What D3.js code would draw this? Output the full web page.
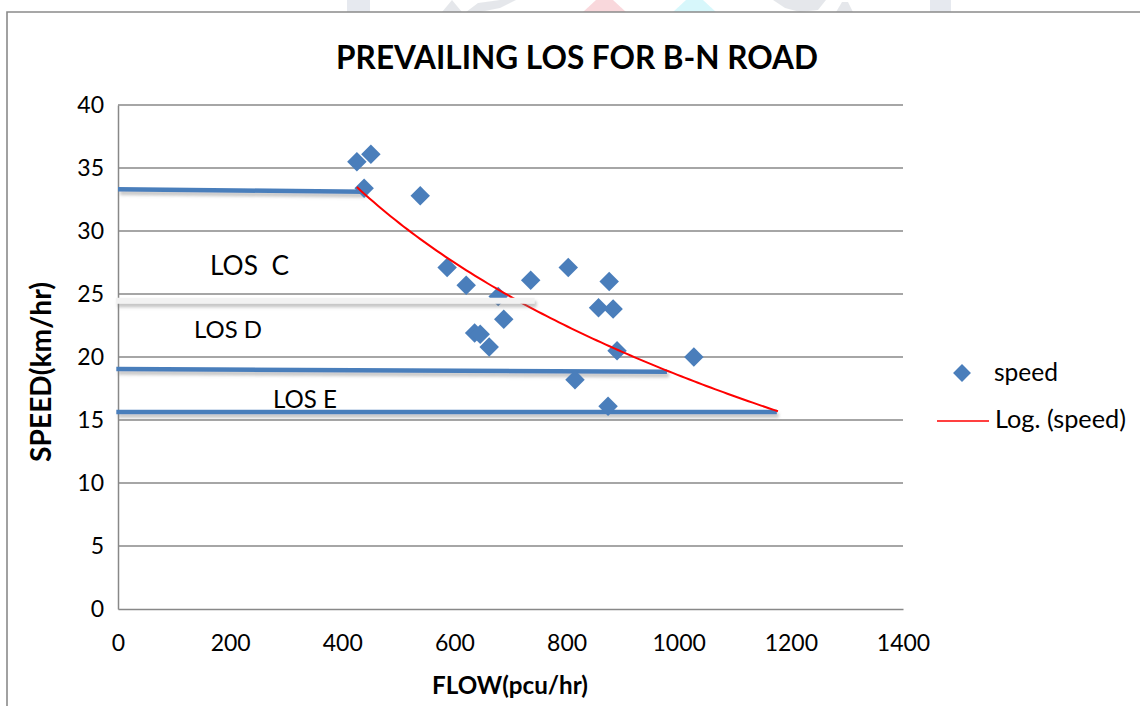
<!DOCTYPE html>
<html>
<head>
<meta charset="utf-8">
<script src="https://cdn.jsdelivr.net/npm/d3@7"></script>
<style>
  body { margin: 0; background: #fff; }
  svg { display: block; }
  text { font-family: Lato, "Open Sans", sans-serif; fill: #000; }
</style>
</head>
<body>
<svg id="chart" width="1140" height="706"></svg>
<script>
// Observed flow (pcu/hr) and speed (km/hr) on the B-N road
const flow  = [426, 451, 439, 539, 587, 621, 736, 803, 876, 857, 883, 890, 1027, 815, 874, 636, 646, 662, 688, 678];
const speed = [35.5, 36.1, 33.4, 32.8, 27.1, 25.7, 26.1, 27.1, 26.0, 23.9, 23.8, 20.5, 20.0, 18.2, 16.1, 21.9, 21.8, 20.8, 23.0, 24.8];

// Axis ticks
const xTicks = [0, 200, 400, 600, 800, 1000, 1200, 1400];
const yTicks = [0, 5, 10, 15, 20, 25, 30, 35, 40];

// Logarithmic trend: speed = a * ln(flow) + b, over the flow range shown
const trendCoef  = [-17.51, 139.5];
const trendRange = [426, 1177];

// LOS boundary lines as [flow, speed] at each end
const boundaryStart = [[0, 33.31], [-4, 24.47], [-3, 19.05], [-3, 15.63]];
const boundaryEnd   = [[440, 33.12], [743, 24.47], [979, 18.82], [1175, 15.63]];
const boundaryKind  = ["blue", "pale", "blue", "blue"];

// LOS band names
const losNames = ["LOS  C", "LOS D", "LOS E"];

const seriesName = "speed";
const trendName = "Log. (speed)";

const svg = d3.select("#chart");
const W = 1140, H = 706;
const plot = { left: 118, right: 903, top: 105, bottom: 609 };
const blue = "#4a7ebb";

const x = d3.scaleLinear().domain([0, 1400]).range([plot.left, plot.right]);
const y = d3.scaleLinear().domain([0, 40]).range([plot.bottom, plot.top]);

// scale a text element's font size so its width becomes w
function fitWidth(sel, w) {
  const cur = sel.node().getComputedTextLength();
  const fs = parseFloat(sel.attr("font-size"));
  sel.attr("font-size", fs * w / cur);
  return sel;
}

const defs = svg.append("defs");
defs.append("filter")
  .attr("id", "shade")
  .attr("filterUnits", "userSpaceOnUse")
  .attr("x", 0).attr("y", 0).attr("width", W).attr("height", H)
  .append("feDropShadow")
  .attr("dx", 2).attr("dy", 3.5).attr("stdDeviation", 1.6)
  .attr("flood-color", "#7f7f7f").attr("flood-opacity", 0.45);

// faint letterhead artwork along the top edge
const art = svg.append("g").attr("opacity", 0.45);
art.append("rect").attr("x", 347).attr("y", 0).attr("width", 23).attr("height", 12).attr("fill", "#c9d0dc");
art.append("path").attr("d", "M442,12 L452,0 L462,12 Z M466,12 L478,3 L500,0 L516,0 L500,8 L480,12 Z").attr("fill", "#c7ccd3");
art.append("path").attr("d", "M583,12 L596,0 L613,0 L626,12 Z").attr("fill", "#f3a9b3");
art.append("path").attr("d", "M673,12 L686,0 L703,0 L716,12 Z").attr("fill", "#a8eef7");
art.append("path").attr("d", "M773,0 L826,0 L818,10 L800,12 L785,8 Z M836,12 L842,2 L848,2 L853,12 Z").attr("fill", "#c7ccd3");
art.append("rect").attr("x", 930).attr("y", 0).attr("width", 21).attr("height", 12).attr("fill", "#c9d0dc");

// outer chart frame
svg.append("path")
  .attr("d", `M7,${H} V12 H${W}`)
  .attr("fill", "none").attr("stroke", "#8a8a8a").attr("stroke-width", 1.6);

// title
const title = svg.append("text")
  .attr("x", 577).attr("y", 69)
  .attr("text-anchor", "middle")
  .attr("font-weight", 700).attr("font-size", 30)
  .text("PREVAILING LOS FOR B-N ROAD");
fitWidth(title, 482);

// horizontal gridlines
svg.append("g").selectAll("line")
  .data(yTicks.filter(t => t > 0))
  .join("line")
  .attr("x1", plot.left).attr("x2", plot.right)
  .attr("y1", d => y(d)).attr("y2", d => y(d))
  .attr("stroke", "#888").attr("stroke-width", 1.5);

// axes
const yAxis = svg.append("g")
  .attr("transform", `translate(${plot.left},0)`)
  .call(d3.axisLeft(y).tickValues(yTicks).tickFormat(d3.format("d")).tickSize(0).tickPadding(14));
const xAxis = svg.append("g")
  .attr("transform", `translate(0,${plot.bottom})`)
  .call(d3.axisBottom(x).tickValues(xTicks).tickFormat(d3.format("d")).tickSize(0).tickPadding(26));
[yAxis, xAxis].forEach(g => {
  g.select(".domain").attr("stroke", "#888").attr("stroke-width", 1.5);
  g.selectAll("text")
    .attr("font-family", "Lato, 'Open Sans', sans-serif")
    .attr("font-size", 23).attr("fill", "#000");
});

// axis titles
const xTitle = svg.append("text")
  .attr("x", 510).attr("y", 694)
  .attr("text-anchor", "middle")
  .attr("font-weight", 700).attr("font-size", 20)
  .text("FLOW(pcu/hr)");
fitWidth(xTitle, 156);

const yTitle = svg.append("text")
  .attr("transform", "translate(51,372) rotate(-90)")
  .attr("text-anchor", "middle")
  .attr("font-weight", 700).attr("font-size", 20)
  .text("SPEED(km/hr)");
fitWidth(yTitle, 180);

// LOS boundary lines (blue)
const bounds = boundaryStart.map((s, i) => ({ s, e: boundaryEnd[i], kind: boundaryKind[i] }));
svg.append("g").attr("filter", "url(#shade)")
  .selectAll("line")
  .data(bounds.filter(b => b.kind === "blue"))
  .join("line")
  .attr("x1", d => x(d.s[0])).attr("y1", d => y(d.s[1]))
  .attr("x2", d => x(d.e[0])).attr("y2", d => y(d.e[1]))
  .attr("stroke", blue).attr("stroke-width", 4.5);

// observations
const diamond = d3.symbol(d3.symbolSquare, 190)();
svg.append("g").selectAll("path")
  .data(flow.map((f, i) => [f, speed[i]]))
  .join("path")
  .attr("d", diamond)
  .attr("transform", d => `translate(${x(d[0])},${y(d[1])}) rotate(45)`)
  .attr("fill", blue);

// logarithmic trend line
const trendPts = d3.range(0, 101).map(i => {
  const f = trendRange[0] + (trendRange[1] - trendRange[0]) * i / 100;
  return [f, trendCoef[0] * Math.log(f) + trendCoef[1]];
});
svg.append("path")
  .datum(trendPts)
  .attr("d", d3.line().x(d => x(d[0])).y(d => y(d[1])))
  .attr("fill", "none").attr("stroke", "#ff0000").attr("stroke-width", 2);

// pale boundary between C and D
svg.append("g").attr("filter", "url(#shade)")
  .selectAll("line")
  .data(bounds.filter(b => b.kind === "pale"))
  .join("line")
  .attr("x1", d => x(d.s[0])).attr("y1", d => y(d.s[1]))
  .attr("x2", d => x(d.e[0])).attr("y2", d => y(d.e[1]))
  .attr("stroke", "#f2f2f2").attr("stroke-width", 6);

// band names
const nameLayout = [
  { x: 210, y: 275, w: 79 },
  { x: 194, y: 338, w: 68 },
  { x: 273, y: 408, w: 64 }
];
losNames.forEach((n, i) => {
  const t = svg.append("text")
    .attr("x", nameLayout[i].x).attr("y", nameLayout[i].y)
    .attr("font-size", 24)
    .style("white-space", "pre")
    .text(n);
  fitWidth(t, nameLayout[i].w);
});

// legend
const lg = svg.append("g");
lg.append("path").attr("d", d3.symbol(d3.symbolSquare, 160)())
  .attr("transform", "translate(962,373) rotate(45)").attr("fill", blue);
fitWidth(lg.append("text").attr("x", 994).attr("y", 381).attr("font-size", 22).text(seriesName), 64);
lg.append("line").attr("x1", 937).attr("x2", 989).attr("y1", 421).attr("y2", 421)
  .attr("stroke", "#ff0000").attr("stroke-width", 1.6);
fitWidth(lg.append("text").attr("x", 995).attr("y", 428).attr("font-size", 22).text(trendName), 131);
</script>
</body>
</html>
